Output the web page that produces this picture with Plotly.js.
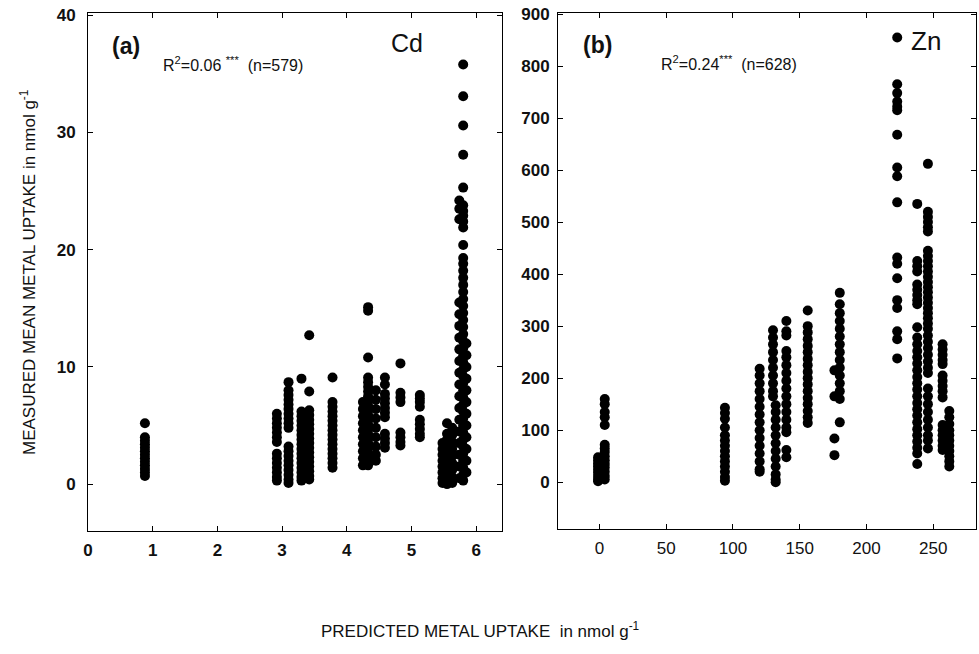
<!DOCTYPE html>
<html>
<head>
<meta charset="utf-8">
<script src="https://cdn.plot.ly/plotly-3.0.1.min.js"></script>
<style>html,body{margin:0;padding:0;background:#fff;}#chart{width:979px;height:654px;}</style>
</head>
<body>
<div id="chart"></div>
<script>
// Panel (a) Cd: predicted value of each column of points, and the measured values in it
const cdPredicted = [0.88, 2.92, 3.10, 3.30, 3.42, 3.78, 4.25, 4.33, 4.45, 4.59, 4.83, 5.13, 5.48, 5.55, 5.63, 5.74, 5.80, 5.85];
const cdMeasured = [
  [5.2, 4.0, 3.7, 3.4, 3.1, 2.8, 2.5, 2.2, 1.9, 1.6, 1.3, 1.0, 0.7],
  [6.0, 5.6, 5.2, 4.8, 4.4, 4.0, 3.6, 2.6, 2.2, 1.8, 1.4, 1.0, 0.6, 0.3],
  [8.7, 8.0, 7.6, 7.2, 6.8, 6.4, 6.0, 5.6, 5.2, 4.8, 3.2, 2.8, 2.4, 2.0, 1.6, 1.2, 0.8, 0.4, 0.1],
  [9.0, 6.2, 5.8, 5.4, 5.0, 4.6, 4.2, 3.8, 3.4, 3.0, 2.6, 2.2, 1.8, 1.4, 1.0, 0.6, 0.3],
  [12.7, 7.9, 6.3, 5.9, 5.5, 5.1, 4.7, 4.3, 3.9, 3.5, 3.1, 2.7, 2.3, 1.9, 1.5, 1.1, 0.7, 0.4],
  [9.1, 7.0, 6.6, 6.2, 5.8, 5.4, 5.0, 4.6, 4.2, 3.8, 3.4, 3.0, 2.6, 2.2, 1.8, 1.4],
  [7.0, 6.4, 5.8, 5.2, 4.6, 4.0, 3.4, 2.8, 2.2, 1.6],
  [15.1, 14.8, 10.8, 9.1, 8.7, 8.3, 7.9, 7.5, 7.1, 6.7, 6.3, 5.9, 5.5, 5.1, 4.7, 4.3, 3.9, 3.5, 3.1, 2.7, 2.3, 1.9, 1.6],
  [8.0, 7.2, 6.4, 5.6, 4.8, 4.0, 3.2, 2.5, 2.0],
  [9.1, 8.5, 7.7, 7.3, 6.9, 6.5, 6.1, 5.7, 4.3, 3.9, 3.5, 3.1],
  [10.3, 7.8, 7.4, 7.0, 4.4, 4.0, 3.6, 3.3],
  [7.6, 7.3, 7.0, 6.6, 5.5, 5.1, 4.7, 4.3, 4.0],
  [3.5, 3.0, 2.5, 2.0, 1.5, 1.0, 0.5, 0.1],
  [5.2, 4.3, 3.8, 3.3, 2.8, 2.3, 1.8, 1.3, 0.8, 0.3, 0.0],
  [4.8, 4.2, 3.6, 3.0, 2.4, 1.8, 1.2, 0.6, 0.1],
  [24.2, 23.5, 22.6, 15.5, 14.5, 13.5, 12.5, 11.5, 10.5, 9.5, 8.5, 7.5, 6.5, 5.5, 4.5, 3.5, 2.5, 1.5, 0.5],
  [35.8, 33.1, 30.6, 28.1, 25.3, 23.8, 23.3, 22.9, 22.4, 21.9, 20.4, 19.3, 18.8, 18.2, 17.6, 17.0, 16.4, 15.8, 15.2, 14.6, 14.0, 13.4, 12.8, 12.2, 11.6, 11.0, 10.4, 9.8, 9.2, 8.6, 8.0, 7.4, 6.8, 6.2, 5.6, 5.0, 4.4, 3.8, 3.2, 2.6, 2.0, 1.4, 0.8, 0.3],
  [12.0, 11.0, 10.0, 9.0, 8.0, 7.0, 6.0, 5.0, 4.0, 3.0, 2.0, 1.0]
];

// Panel (b) Zn
const znPredicted = [-1, 4, 94, 120, 130, 132, 140, 156, 176, 180, 223, 238, 246, 257, 262];
const znMeasured = [
  [48, 42, 36, 30, 24, 18, 12, 6, 2],
  [160, 150, 135, 125, 110, 72, 65, 58, 50, 42, 35, 28, 20, 12, 5],
  [143, 133, 122, 105, 90, 80, 70, 60, 50, 40, 30, 20, 10, 3],
  [218, 205, 190, 175, 160, 145, 130, 115, 100, 85, 70, 55, 40, 25, 20],
  [292, 278, 265, 250, 235, 220, 205, 190, 175, 165],
  [148, 135, 120, 105, 90, 75, 60, 45, 30, 15, 5, 0],
  [310, 290, 282, 252, 240, 225, 210, 195, 180, 165, 150, 135, 120, 105, 96, 62, 48],
  [330, 300, 288, 275, 262, 250, 237, 225, 212, 200, 188, 175, 162, 150, 137, 125, 114],
  [215, 165, 84, 52],
  [364, 342, 325, 310, 295, 280, 265, 250, 235, 220, 205, 190, 175, 160, 115],
  [855, 765, 748, 732, 722, 715, 668, 605, 588, 538, 432, 420, 392, 350, 335, 290, 275, 238],
  [535, 425, 415, 405, 380, 370, 360, 350, 342, 298, 278, 265, 252, 240, 228, 215, 202, 190, 178, 165, 152, 140, 128, 115, 102, 90, 78, 66, 55, 35],
  [612, 520, 510, 500, 490, 482, 445, 435, 425, 415, 405, 395, 385, 375, 365, 355, 345, 335, 325, 315, 305, 295, 282, 270, 258, 245, 232, 220, 210, 180, 165, 150, 135, 120, 105, 90, 80, 65],
  [265, 255, 245, 235, 227, 205, 195, 185, 175, 163, 110, 100, 90, 80, 70, 62],
  [137, 125, 112, 100, 90, 80, 70, 60, 50, 40, 30]
];

const cdTicks = [0, 1, 2, 3, 4, 5, 6];
const cdYTicks = [0, 10, 20, 30, 40];
const znTicks = [0, 50, 100, 150, 200, 250];
const znYTicks = [0, 100, 200, 300, 400, 500, 600, 700, 800, 900];

function flatten(px, py) {
  const x = [], y = [];
  px.forEach((p, i) => py[i].forEach(v => { x.push(p); y.push(v); }));
  return {x, y};
}
const cd = flatten(cdPredicted, cdMeasured);
const zn = flatten(znPredicted, znMeasured);

const W = 979, H = 654;
const px = v => v / W, py = v => 1 - v / H;
const FONT = 'Liberation Sans, Arial, sans-serif';

const marker = {color: '#000', size: 10, line: {width: 0}};
const traces = [
  {type: 'scatter', mode: 'markers', x: cd.x, y: cd.y, xaxis: 'x', yaxis: 'y', marker, cliponaxis: false, hoverinfo: 'x+y'},
  {type: 'scatter', mode: 'markers', x: zn.x, y: zn.y, xaxis: 'x2', yaxis: 'y2', marker, cliponaxis: false, hoverinfo: 'x+y'}
];

const axBase = {
  showline: true, linecolor: '#000', linewidth: 1, mirror: 'ticks',
  ticks: 'inside', ticklen: 5, tickcolor: '#000', tickwidth: 1,
  showgrid: false, zeroline: false, tickmode: 'array'
};
const boldTick = {family: FONT, size: 17, color: '#111', weight: 'bold'};
const normTick = {family: FONT, size: 17, color: '#111'};

const layout = {
  width: W, height: H,
  margin: {l: 0, r: 0, t: 0, b: 0},
  paper_bgcolor: '#fff', plot_bgcolor: '#fff',
  showlegend: false,
  xaxis: Object.assign({}, axBase, {domain: [px(88), px(502)], range: [0, 6.4], tickvals: cdTicks, ticktext: cdTicks.map(String), tickfont: boldTick, anchor: 'y', ticklabelstandoff: 4}),
  yaxis: Object.assign({}, axBase, {domain: [py(531), py(13)], range: [-4.0, 40.2], tickvals: cdYTicks, ticktext: cdYTicks.map(String), tickfont: boldTick, anchor: 'x', ticklabelstandoff: 8}),
  xaxis2: Object.assign({}, axBase, {domain: [px(558), px(976)], range: [-31, 282], tickvals: znTicks, ticktext: znTicks.map(String), tickfont: normTick, anchor: 'y2', ticklabelstandoff: 4}),
  yaxis2: Object.assign({}, axBase, {domain: [py(529), py(13)], range: [-90, 902], tickvals: znYTicks, ticktext: znYTicks.map(String), tickfont: boldTick, anchor: 'x2', ticklabelstandoff: 4}),
  annotations: [
    {xref: 'paper', yref: 'paper', x: px(110), y: py(46), xanchor: 'left', yanchor: 'middle', showarrow: false,
     text: '<b>(a)</b>', font: {family: FONT, size: 23, color: '#111'}},
    {xref: 'paper', yref: 'paper', x: px(161), y: py(64), xanchor: 'left', yanchor: 'middle', showarrow: false,
     text: 'R<sup>2</sup>=0.06 <sup>***</sup>  (n=579)', font: {family: FONT, size: 16, color: '#111'}},
    {xref: 'paper', yref: 'paper', x: px(389), y: py(43), xanchor: 'left', yanchor: 'middle', showarrow: false,
     text: 'Cd', font: {family: FONT, size: 25, color: '#111'}},
    {xref: 'paper', yref: 'paper', x: px(581), y: py(45), xanchor: 'left', yanchor: 'middle', showarrow: false,
     text: '<b>(b)</b>', font: {family: FONT, size: 23, color: '#111'}},
    {xref: 'paper', yref: 'paper', x: px(659), y: py(63), xanchor: 'left', yanchor: 'middle', showarrow: false,
     text: 'R<sup>2</sup>=0.24<sup>***</sup>  (n=628)', font: {family: FONT, size: 16, color: '#111'}},
    {xref: 'paper', yref: 'paper', x: px(909), y: py(41), xanchor: 'left', yanchor: 'middle', showarrow: false,
     text: 'Zn', font: {family: FONT, size: 26, color: '#111'}},
    {xref: 'paper', yref: 'paper', x: px(480), y: py(630), xanchor: 'center', yanchor: 'middle', showarrow: false,
     text: 'PREDICTED METAL UPTAKE  in nmol g<sup>-1</sup>', font: {family: FONT, size: 17, color: '#111'}},
    {xref: 'paper', yref: 'paper', x: px(28), y: py(272), xanchor: 'center', yanchor: 'middle', showarrow: false, textangle: -90,
     text: 'MEASURED MEAN METAL UPTAKE in nmol g<sup>-1</sup>', font: {family: FONT, size: 17, color: '#111'}}
  ]
};

Plotly.newPlot('chart', traces, layout, {staticPlot: true, displayModeBar: false});
</script>
</body>
</html>
